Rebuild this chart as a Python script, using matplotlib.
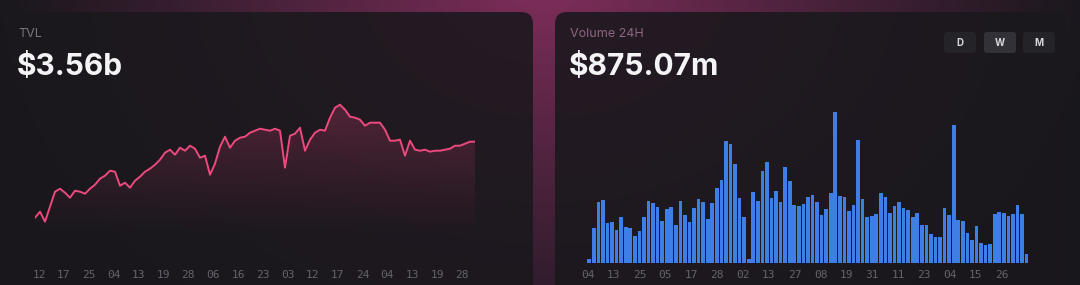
import numpy as np
import matplotlib.pyplot as plt
from matplotlib.patches import FancyBboxPatch

# TVL in billions, one value per step
tvl = [2.80, 2.86, 2.76, 2.91, 3.06, 3.09, 3.05, 3.00, 3.07, 3.06,
       3.04, 3.09, 3.13, 3.19, 3.22, 3.27, 3.26, 3.12, 3.15, 3.10,
       3.17, 3.21, 3.26, 3.29, 3.33, 3.38, 3.45, 3.48, 3.43, 3.50,
       3.47, 3.52, 3.49, 3.40, 3.42, 3.23, 3.34, 3.51, 3.61, 3.50,
       3.57, 3.60, 3.61, 3.65, 3.67, 3.69, 3.68, 3.67, 3.69, 3.67,
       3.30, 3.62, 3.64, 3.70, 3.47, 3.58, 3.65, 3.68, 3.67, 3.80,
       3.90, 3.93, 3.88, 3.81, 3.80, 3.78, 3.72, 3.75, 3.75, 3.75,
       3.68, 3.57, 3.57, 3.58, 3.42, 3.57, 3.48, 3.47, 3.48, 3.46,
       3.47, 3.47, 3.48, 3.49, 3.52, 3.52, 3.54, 3.56, 3.56]
tvl_ticks = ["12", "17", "25", "04", "13", "19", "28", "06", "16", "23",
             "03", "12", "17", "24", "04", "13", "19", "28"]

# weekly volume in millions
volume = [40, 350, 617, 633, 400, 417, 333, 467, 367, 350,
          273, 323, 467, 627, 600, 560, 427, 540, 567, 383,
          627, 483, 417, 550, 647, 617, 440, 607, 750, 833,
          1227, 1193, 990, 657, 467, 40, 717, 627, 927, 1017,
          650, 727, 617, 967, 827, 580, 573, 593, 660, 683,
          617, 483, 540, 707, 1517, 677, 667, 527, 583, 1233,
          640, 467, 473, 493, 700, 667, 500, 573, 617, 550,
          533, 467, 500, 383, 383, 290, 267, 260, 550, 483,
          1383, 433, 423, 300, 233, 373, 200, 183, 193, 493,
          517, 500, 473, 493, 583, 493, 93]
vol_ticks = ["04", "13", "25", "05", "17", "28", "02", "13", "27", "08",
             "19", "31", "11", "23", "04", "15", "26"]

W, H = 1080, 285
fig = plt.figure(figsize=(W / 100, H / 100), dpi=100)
fig.patch.set_facecolor("#17171b")

def px_axes(x0, y0, x1, y1):
    # axes placed with pixel coords, y measured from the top
    return fig.add_axes([x0 / W, 1 - y1 / H, (x1 - x0) / W, (y1 - y0) / H])

# background with pink glow at the top
bg = px_axes(0, 0, W, H)
yy, xx = np.mgrid[0:H, 0:W]
d = np.sqrt(((xx - 545) / 560.0) ** 2 + ((yy + 20) / 420.0) ** 2)
g = np.clip(1 - d, 0, 1) ** 1.1
base = np.array([0x18, 0x17, 0x1c]) / 255
glow = np.array([0x80, 0x2e, 0x5c]) / 255
img = base + (glow - base) * g[..., None]
bg.imshow(img, extent=[0, W, H, 0], aspect="auto")
bg.set_xlim(0, W)
bg.set_ylim(H, 0)
bg.axis("off")

for x0, x1 in [(3, 533), (555, 1067)]:
    bg.add_patch(FancyBboxPatch((x0, 12), x1 - x0, 300,
                                boxstyle="round,pad=0,rounding_size=12",
                                fc="#1a181d", ec="none", alpha=0.88))

# buttons
for bx, lab, fc in [(944, "D", "#232328"), (984, "W", "#313137"), (1023, "M", "#232328")]:
    bg.add_patch(FancyBboxPatch((bx, 32), 32, 21,
                                boxstyle="round,pad=0,rounding_size=3",
                                fc=fc, ec="none"))
    bg.text(bx + 16, 43, lab, color="#d8d8dc", fontsize=7, fontweight="bold",
            family="Inter", ha="center", va="center")

# headers
bg.text(18, 34, "TVL", color="#77757d", fontsize=9, family="Inter",
        va="center", ha="left")
bg.text(17, 75, "$3.56b", color="#f4f4f6", fontsize=21.5, family="Inter",
        fontweight="bold", va="baseline", ha="left")
bg.text(570, 34, "Volume 24H", color="#8e6582", fontsize=9, family="Inter",
        va="center", ha="left")
bg.text(569, 75, "$875.07m", color="#f4f4f6", fontsize=21.5, family="Inter",
        fontweight="bold", va="baseline", ha="left")

# TVL line chart
ax1 = px_axes(35, 95, 475, 240)
x = np.arange(len(tvl))
ylo, yhi = 2.577, 4.027
ax1.set_xlim(0, len(tvl) - 1)
ax1.set_ylim(ylo, yhi)
poly = ax1.fill_between(x, tvl, ylo, color="none", lw=0)
grad = np.zeros((256, 1, 4))
grad[..., 0] = 0xe8 / 255
grad[..., 1] = 0x45 / 255
grad[..., 2] = 0x7a / 255
grad[:, 0, 3] = np.linspace(0.0, 0.32, 256) ** 1.2
im = ax1.imshow(grad, extent=[0, len(tvl) - 1, ylo, max(tvl)],
                aspect="auto", origin="lower")
im.set_clip_path(poly.get_paths()[0], transform=ax1.transData)
ax1.plot(x, tvl, color="#ec4a7e", lw=1.4, solid_joinstyle="round")
ax1.set_xticks(np.linspace(0.8, 85.4, len(tvl_ticks)))
ax1.set_xticklabels(tvl_ticks)
ax1.set_yticks([])

# volume bars
ax2 = px_axes(587, 100, 1028.9, 263.3)
xb = np.arange(len(volume))
ax2.bar(xb, volume, width=0.8, color="#3d7fe6")
ax2.set_xlim(-0.5, len(volume) - 0.5)
ax2.set_ylim(0, 1633)
ax2.set_xticks(np.arange(len(vol_ticks)) * 5.68 - 0.35)
ax2.set_xticklabels(vol_ticks)
ax2.set_yticks([])

for ax, pad in [(ax1, 21.6), (ax2, 4.8)]:
    ax.patch.set_alpha(0)
    for s in ax.spines.values():
        s.set_visible(False)
    ax.tick_params(axis="x", length=0, pad=pad, labelsize=8,
                   labelcolor="#65636c")
    for t in ax.get_xticklabels():
        t.set_family("DejaVu Sans Mono")

fig.savefig("out.png", dpi=100, facecolor=fig.get_facecolor())
